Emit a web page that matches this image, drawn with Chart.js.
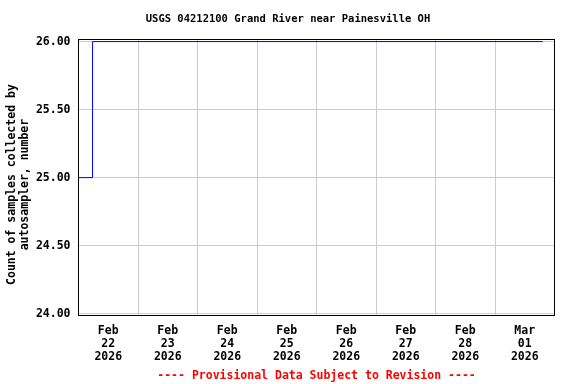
<!DOCTYPE html>
<html>
<head>
<meta charset="utf-8">
<script src="https://cdn.jsdelivr.net/npm/chart.js@4/dist/chart.umd.min.js"></script>
<style>
  body { margin: 0; background: #fff; }
  canvas { display: block; }
</style>
</head>
<body>
<canvas id="myChart" width="576" height="384"></canvas>
<script>
var axisStart = "2026-02-22T00:00";
var axisEnd = "2026-03-02T00:00";
var sampleTimes = ["2026-02-22T00:00", "2026-02-22T05:40", "2026-03-01T19:15"];
var sampleCounts = [25, 26, 26];
var xTickLabels = ["Feb 22 2026", "Feb 23 2026", "Feb 24 2026", "Feb 25 2026",
  "Feb 26 2026", "Feb 27 2026", "Feb 28 2026", "Mar 01 2026"];
var yTickValues = [24, 24.5, 25, 25.5, 26];

var fontName = "'DejaVu Sans Mono', monospace";

function hoursFrom(s) {
  return (Date.parse(s + ":00Z") - Date.parse(axisStart + ":00Z")) / 3600000;
}

var points = [];
for (var i = 0; i < sampleTimes.length; i++) {
  points.push({ x: hoursFrom(sampleTimes[i]), y: sampleCounts[i] });
}
var totalHours = hoursFrom(axisEnd);

//black frame round the plot
var frame = {
  id: "frame",
  afterDatasetsDraw: function (chart) {
    var a = chart.chartArea;
    var c = chart.ctx;
    c.save();
    c.strokeStyle = "#000";
    c.lineWidth = 1;
    var x0 = Math.floor(a.left) + 0.5;
    var y0 = Math.floor(a.top) + 0.5;
    var x1 = Math.floor(a.right) + 0.5;
    var y1 = Math.round(a.bottom) - 0.5;
    c.strokeRect(x0, y0, x1 - x0, y1 - y0);
    c.restore();
  }
};

new Chart("myChart", {
  type: "line",
  data: {
    datasets: [
      {
        data: points,
        borderColor: "#0000ff",
        borderWidth: 1,
        pointRadius: 0,
        stepped: true,
        fill: false
      }
    ]
  },
  options: {
    responsive: false,
    animation: false,
    layout: { padding: 0 },
    plugins: {
      legend: { display: false },
      tooltip: { enabled: false },
      title: {
        display: true,
        text: "USGS 04212100 Grand River near Painesville OH",
        color: "#000",
        font: { family: fontName, size: 10.5, weight: "bold", lineHeight: 1.15 },
        padding: { top: 13, bottom: 14 }
      },
      subtitle: {
        display: true,
        position: "bottom",
        fullSize: false,
        text: "---- Provisional Data Subject to Revision ----",
        color: "#ff0000",
        font: { family: fontName, size: 11.5, weight: "bold", lineHeight: 1.2 },
        padding: { top: 0, bottom: 1 }
      }
    },
    scales: {
      x: {
        type: "linear",
        min: 0,
        max: totalHours,
        afterBuildTicks: function (scale) {
          var t = [];
          for (var h = 0; h <= totalHours; h += 12) t.push({ value: h });
          scale.ticks = t;
        },
        afterFit: function (scale) { scale.height = 53; },
        grid: {
          color: function (ctx) {
            return ctx.tick && ctx.tick.value % 24 === 0 ? "#cccccc" : "rgba(0,0,0,0)";
          },
          drawTicks: false,
          tickLength: 0
        },
        border: { display: false },
        ticks: {
          autoSkip: false,
          maxRotation: 0,
          padding: 8,
          color: "#000",
          font: { family: fontName, size: 11.5, weight: "bold", lineHeight: 1.13 },
          callback: function (value) {
            if (value % 24 !== 12) return "";
            return xTickLabels[(value - 12) / 24].split(" ");
          }
        }
      },
      y: {
        min: 23.98162,
        max: 26.01838,
        afterBuildTicks: function (scale) {
          scale.ticks = yTickValues.map(function (v) { return { value: v }; });
        },
        afterFit: function (scale) { scale.width = 78.5; },
        grid: { color: "#cccccc", drawTicks: false, tickLength: 0 },
        border: { display: false },
        ticks: {
          padding: 8,
          color: "#000",
          font: { family: fontName, size: 11.5, weight: "bold" },
          callback: function (value) { return value.toFixed(2); }
        },
        title: {
          display: true,
          text: ["Count of samples collected by  ", "autosampler, number  "],
          color: "#000",
          font: { family: fontName, size: 11.5, weight: "bold", lineHeight: 1.17 },
          padding: { top: 5, bottom: 0 }
        }
      },
      yRight: {
        position: "right",
        afterFit: function (scale) { scale.width = 21.5; },
        grid: { drawOnChartArea: false, drawTicks: false },
        border: { display: false },
        ticks: { display: false }
      }
    }
  },
  plugins: [frame]
});
</script>
</body>
</html>
